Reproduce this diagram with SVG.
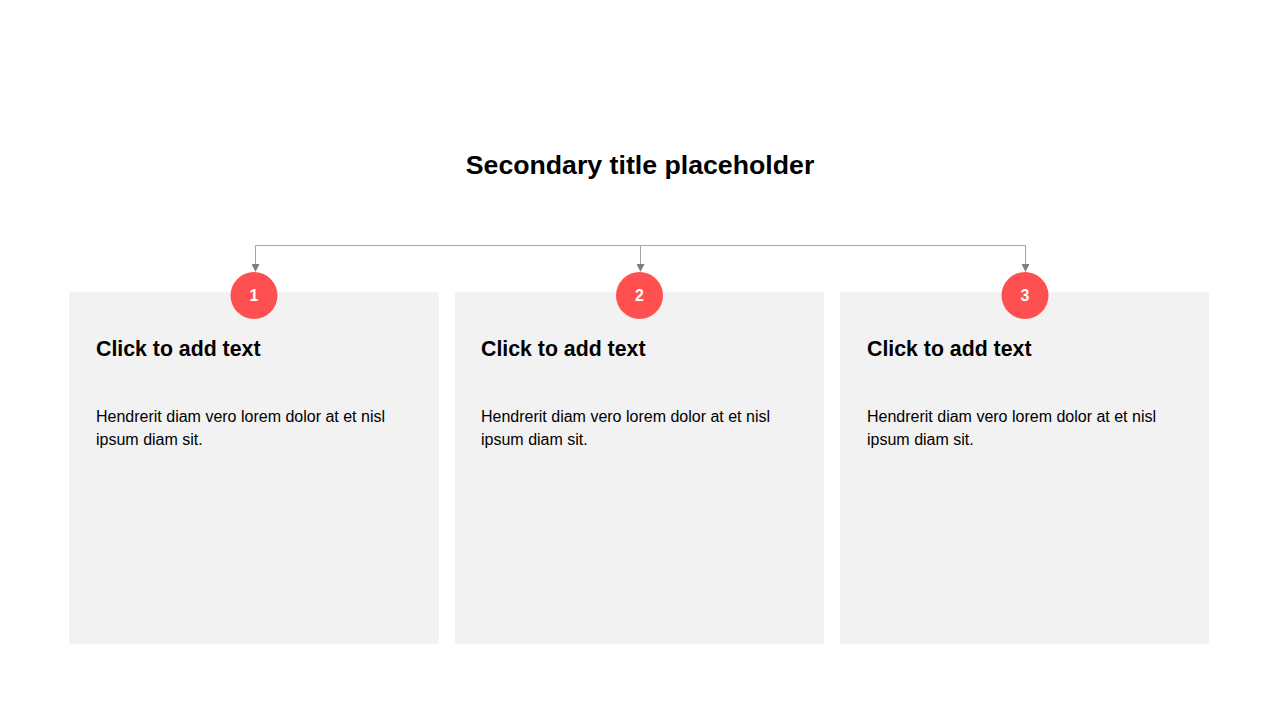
<svg xmlns="http://www.w3.org/2000/svg" width="1280" height="720" viewBox="0 0 1280 720">
<defs>
<marker id="arr" markerWidth="8" markerHeight="8" refX="7" refY="4" orient="auto" markerUnits="userSpaceOnUse" viewBox="0 0 8 8">
<path d="M0,0 L8,4 L0,8 Z" fill="#7f7f7f"/>
</marker>
<style>
.card{fill:#f2f2f2}
.badge{fill:#fe5050}
.num{font-family:"Liberation Sans",Arial,sans-serif;font-weight:bold;font-size:16px;fill:#fff;text-anchor:middle}
.h{font-family:"Liberation Sans",Arial,sans-serif;font-weight:bold;font-size:21.3px;fill:#000}
.b{font-family:"Liberation Sans",Arial,sans-serif;font-size:16px;fill:#000}
.title{font-family:"Liberation Sans",Arial,sans-serif;font-weight:bold;font-size:26.7px;fill:#000;text-anchor:middle}
.conn{stroke:#a6a6a6;stroke-width:1;fill:none}
</style>
</defs>
<rect width="1280" height="720" fill="#fff"/>
<text class="title" x="640" y="174">Secondary title placeholder</text>
<g id="connectors">
<path class="conn" d="M255.5,264 V245.5 H1025.5 V264"/>
<path class="conn" d="M255.5,245 V271" marker-end="url(#arr)"/>
<path class="conn" d="M640.5,245 V271" marker-end="url(#arr)"/>
<path class="conn" d="M1025.5,245 V271" marker-end="url(#arr)"/>
</g>
<g id="card1">
<rect class="card" x="69" y="292" width="370" height="352"/>
<circle class="badge" cx="254" cy="295.5" r="23.5"/>
<text class="num" x="254" y="301">1</text>
<text class="h" x="96" y="356">Click to add text</text>
<text class="b" x="96" y="422">Hendrerit diam vero lorem dolor at et nisl</text>
<text class="b" x="96" y="445">ipsum diam sit.</text>
</g>
<g id="card2">
<rect class="card" x="455" y="292" width="369" height="352"/>
<circle class="badge" cx="639.5" cy="295.5" r="23.5"/>
<text class="num" x="639.5" y="301">2</text>
<text class="h" x="481" y="356">Click to add text</text>
<text class="b" x="481" y="422">Hendrerit diam vero lorem dolor at et nisl</text>
<text class="b" x="481" y="445">ipsum diam sit.</text>
</g>
<g id="card3">
<rect class="card" x="840" y="292" width="369" height="352"/>
<circle class="badge" cx="1025" cy="295.5" r="23.5"/>
<text class="num" x="1025" y="301">3</text>
<text class="h" x="867" y="356">Click to add text</text>
<text class="b" x="867" y="422">Hendrerit diam vero lorem dolor at et nisl</text>
<text class="b" x="867" y="445">ipsum diam sit.</text>
</g>
</svg>
